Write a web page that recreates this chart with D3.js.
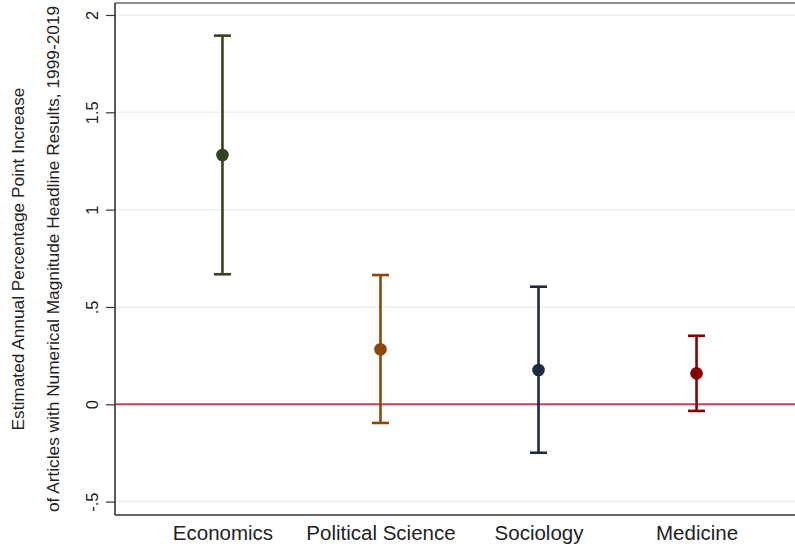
<!DOCTYPE html>
<html>
<head>
<meta charset="utf-8">
<script src="https://cdn.jsdelivr.net/npm/d3@7"></script>
<style>
  html, body { margin: 0; padding: 0; background: #fff; }
  svg { display: block; font-family: "Liberation Sans", Arial, sans-serif; }
</style>
</head>
<body>
<svg id="chart" width="795" height="548"></svg>
<script>
// Estimated annual trend by discipline, with 95% confidence intervals
const fields   = ["Economics", "Political Science", "Sociology", "Medicine"];
const estimate = [1.281, 0.283, 0.176, 0.159];
const lower    = [0.668, -0.096, -0.249, -0.034];
const upper    = [1.894, 0.664, 0.604, 0.352];
const colors   = ["#34421f", "#8a4709", "#1b2b42", "#870000"];
const yTicks   = [-0.5, 0, 0.5, 1, 1.5, 2];
const yTickLabels = ["-.5", "0", ".5", "1", "1.5", "2"];

const svg = d3.select("#chart");
const plotLeft = 115, plotRight = 804, plotTop = 3, plotBottom = 515;

const x = d3.scalePoint().domain(fields).range([plotLeft, plotRight]).padding(0.68);
const y = d3.scaleLinear().domain([-0.5, 2]).range([501.6, 15]);

// horizontal grid lines
svg.append("g").selectAll("line")
  .data(yTicks.filter(t => t !== 0))
  .join("line")
  .attr("x1", plotLeft).attr("x2", 795)
  .attr("y1", d => y(d)).attr("y2", d => y(d))
  .attr("stroke", "#e8f0f2").attr("stroke-width", 1.5);

// frame top line
svg.append("line")
  .attr("x1", plotLeft).attr("x2", 795).attr("y1", plotTop).attr("y2", plotTop)
  .attr("stroke", "#222").attr("stroke-width", 1.2);

// reference line at zero
svg.append("line")
  .attr("x1", plotLeft).attr("x2", 795)
  .attr("y1", y(0)).attr("y2", y(0))
  .attr("stroke", "#cf3d5e").attr("stroke-width", 2);

// y axis
const yAxis = d3.axisLeft(y).tickValues(yTicks)
  .tickFormat((d, i) => yTickLabels[i]).tickSize(9).tickPadding(0);
const gy = svg.append("g").attr("transform", `translate(${plotLeft},0)`).call(yAxis);
gy.select(".domain").attr("d", `M0,${plotTop}V${plotBottom}`).attr("stroke", "#333").attr("stroke-width", 1.6);
gy.selectAll(".tick line").attr("stroke", "#333").attr("stroke-width", 1.2);
gy.selectAll(".tick text")
  .attr("transform", "rotate(-90)")
  .attr("x", 0).attr("y", -17).attr("dy", 0)
  .attr("text-anchor", "middle")
  .attr("font-size", 16.5).attr("fill", "#222")
  .attr("font-family", "Liberation Sans, Arial, sans-serif");

// x axis
const xAxis = d3.axisBottom(x).tickSize(0).tickPadding(0);
const gx = svg.append("g").attr("transform", `translate(0,${plotBottom})`).call(xAxis);
gx.select(".domain").attr("d", `M${plotLeft},0H795`).attr("stroke", "#333").attr("stroke-width", 1.6);
gx.selectAll(".tick text")
  .attr("y", 25).attr("dy", 0)
  .attr("font-size", 20.5).attr("fill", "#222")
  .attr("font-family", "Liberation Sans, Arial, sans-serif");

// y axis title
const title = svg.append("g").attr("transform", "translate(0,259) rotate(-90)")
  .attr("text-anchor", "middle").attr("font-size", 17.3).attr("fill", "#222");
title.append("text").attr("x", 0).attr("y", 24)
  .text("Estimated Annual Percentage Point Increase");
title.append("text").attr("x", 0).attr("y", 59)
  .text("of Articles with Numerical Magnitude Headline Results, 1999-2019");

// confidence intervals and point estimates
const rows = fields.map((f, i) => ({ f, est: estimate[i], lo: lower[i], hi: upper[i], c: colors[i] }));
const g = svg.append("g").selectAll("g").data(rows).join("g");
const capW = 8.5;
g.append("line")
  .attr("x1", d => x(d.f)).attr("x2", d => x(d.f))
  .attr("y1", d => y(d.lo)).attr("y2", d => y(d.hi))
  .attr("stroke", d => d.c).attr("stroke-width", 2.6);
g.append("line")
  .attr("x1", d => x(d.f) - capW).attr("x2", d => x(d.f) + capW)
  .attr("y1", d => y(d.hi)).attr("y2", d => y(d.hi))
  .attr("stroke", d => d.c).attr("stroke-width", 2.6);
g.append("line")
  .attr("x1", d => x(d.f) - capW).attr("x2", d => x(d.f) + capW)
  .attr("y1", d => y(d.lo)).attr("y2", d => y(d.lo))
  .attr("stroke", d => d.c).attr("stroke-width", 2.6);
g.append("circle")
  .attr("cx", d => x(d.f)).attr("cy", d => y(d.est))
  .attr("r", 6.3).attr("fill", d => d.c);
</script>
</body>
</html>
